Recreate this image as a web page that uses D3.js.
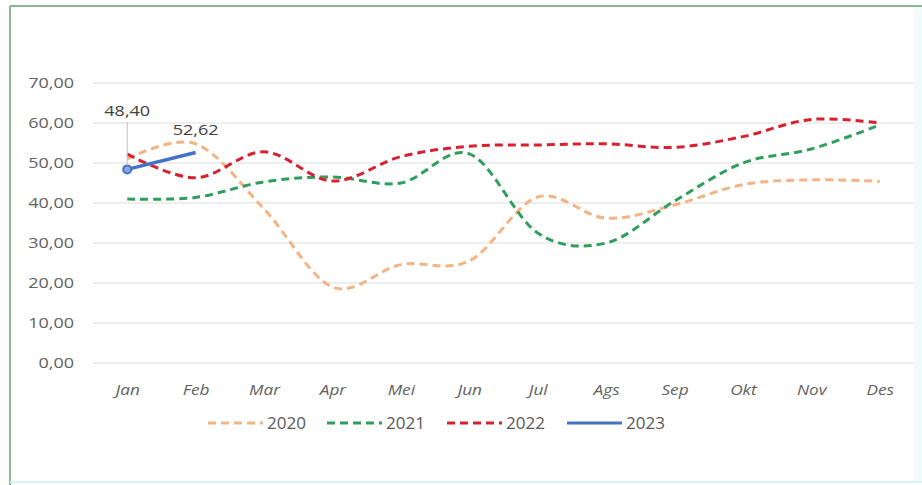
<!DOCTYPE html>
<html>
<head>
<meta charset="utf-8">
<script src="https://cdn.jsdelivr.net/npm/d3@7"></script>
<style>
  html, body { margin: 0; padding: 0; background: #fff; }
  svg { display: block; font-family: "Open Sans", "Liberation Sans", sans-serif; }
</style>
</head>
<body>
<svg id="chart" width="922" height="485"></svg>
<script>
// Monthly values per year
const months = ["Jan", "Feb", "Mar", "Apr", "Mei", "Jun", "Jul", "Ags", "Sep", "Okt", "Nov", "Des"];
const values2020 = [51.0, 54.8, 38.5, 19.0, 24.6, 25.5, 41.5, 36.2, 39.5, 44.6, 45.8, 45.4];
const values2021 = [41.0, 41.4, 45.3, 46.5, 45.0, 52.3, 32.5, 30.0, 40.5, 50.0, 53.5, 59.5];
const values2022 = [52.2, 46.3, 52.8, 45.5, 51.6, 54.2, 54.5, 54.8, 53.9, 56.6, 60.9, 60.0];
const values2023 = [48.40, 52.62];
const yTicks = [0, 10, 20, 30, 40, 50, 60, 70];
const seriesNames = ["2020", "2021", "2022", "2023"];

const fmt = v => d3.format(".2f")(v).replace(".", ",");
const FONT = "'Open Sans', 'Liberation Sans', sans-serif";

const svg = d3.select("#chart");

// Outer frame
svg.append("rect").attr("x", 914).attr("y", 6).attr("width", 8).attr("height", 476).attr("fill", "#f2fcfb");
svg.append("line").attr("x1", 10).attr("x2", 922).attr("y1", 6).attr("y2", 6)
  .attr("stroke", "#8db597").attr("stroke-width", 2);
svg.append("line").attr("x1", 10).attr("x2", 10).attr("y1", 6).attr("y2", 485)
  .attr("stroke", "#8db597").attr("stroke-width", 2);
svg.append("line").attr("x1", 10).attr("x2", 922).attr("y1", 482).attr("y2", 482)
  .attr("stroke", "#d6f3ee").attr("stroke-width", 2);

const plot = { left: 93, right: 914, top: 83, bottom: 363 };

const x = d3.scalePoint().domain(months).range([plot.left, plot.right]).padding(0.5);
const y = d3.scaleLinear().domain([0, 70]).range([plot.bottom, plot.top]);

// Gridlines
svg.append("g").selectAll("line").data(yTicks).join("line")
  .attr("x1", plot.left).attr("x2", plot.right)
  .attr("y1", d => y(d)).attr("y2", d => y(d))
  .attr("stroke", "#dedede").attr("stroke-width", 1.2);

// Y axis labels (slightly widened lettering)
const yAxis = svg.append("g").attr("transform", `translate(74,0)`)
  .call(d3.axisLeft(y).tickValues(yTicks).tickFormat(fmt).tickSize(0).tickPadding(0));
yAxis.select(".domain").remove();
yAxis.selectAll("text").attr("fill", "#626262").attr("font-size", 15)
  .attr("font-family", FONT)
  .attr("transform", "scale(1.2,1)");

// X axis labels
const xAxis = svg.append("g").attr("transform", `translate(0,${plot.bottom + 21})`)
  .call(d3.axisBottom(x).tickSize(0).tickPadding(0));
xAxis.select(".domain").remove();
xAxis.selectAll("text").attr("fill", "#626262").attr("font-size", 15)
  .attr("font-style", "italic")
  .attr("font-family", FONT)
  .attr("transform", "scale(1.15,1)");

const series = [
  { name: seriesNames[0], values: values2020, color: "#f2b484", dash: "8,5", width: 3 },
  { name: seriesNames[1], values: values2021, color: "#2f9e5c", dash: "8,5", width: 3 },
  { name: seriesNames[2], values: values2022, color: "#d9202f", dash: "8,5", width: 3 },
  { name: seriesNames[3], values: values2023, color: "#4472c4", dash: null, width: 3.5 }
];

const line = d3.line()
  .x((d, i) => x(months[i]))
  .y(d => y(d))
  .curve(d3.curveCardinal.tension(0));

series.forEach(s => {
  svg.append("path")
    .datum(s.values)
    .attr("d", line)
    .attr("fill", "none")
    .attr("stroke", s.color)
    .attr("stroke-width", s.width)
    .attr("stroke-dasharray", s.dash)
    .attr("stroke-linecap", "butt");
});

// 2023 marker at first point
svg.append("circle")
  .attr("cx", x(months[0])).attr("cy", y(values2023[0])).attr("r", 4)
  .attr("fill", "#8aa6dc").attr("stroke", "#4472c4").attr("stroke-width", 2);

// Data labels for 2023
const lbl0x = x(months[0]), lbl0y = y(values2023[0]);
svg.append("line")
  .attr("x1", lbl0x).attr("x2", lbl0x)
  .attr("y1", 122).attr("y2", lbl0y - 4)
  .attr("stroke", "#bfbfbf").attr("stroke-width", 1);
svg.append("text")
  .attr("transform", `translate(${lbl0x},116) scale(1.2,1)`)
  .attr("text-anchor", "middle")
  .attr("fill", "#404040").attr("font-size", 15)
  .text(fmt(values2023[0]));
svg.append("text")
  .attr("transform", `translate(${x(months[1])},${y(values2023[1]) - 18}) scale(1.2,1)`)
  .attr("text-anchor", "middle")
  .attr("fill", "#404040").attr("font-size", 15)
  .text(fmt(values2023[1]));

// Legend
const legend = svg.append("g").attr("transform", "translate(0,423)");
const legendX = [208, 327, 447, 567];
series.forEach((s, i) => {
  const g = legend.append("g").attr("transform", `translate(${legendX[i]},0)`);
  g.append("line").attr("x1", 0).attr("x2", 55).attr("y1", 0).attr("y2", 0)
    .attr("stroke", s.color).attr("stroke-width", 3)
    .attr("stroke-dasharray", s.dash);
  g.append("text").attr("x", 59).attr("y", 6)
    .attr("fill", "#595959").attr("font-size", 17)
    .text(s.name);
});
</script>
</body>
</html>
